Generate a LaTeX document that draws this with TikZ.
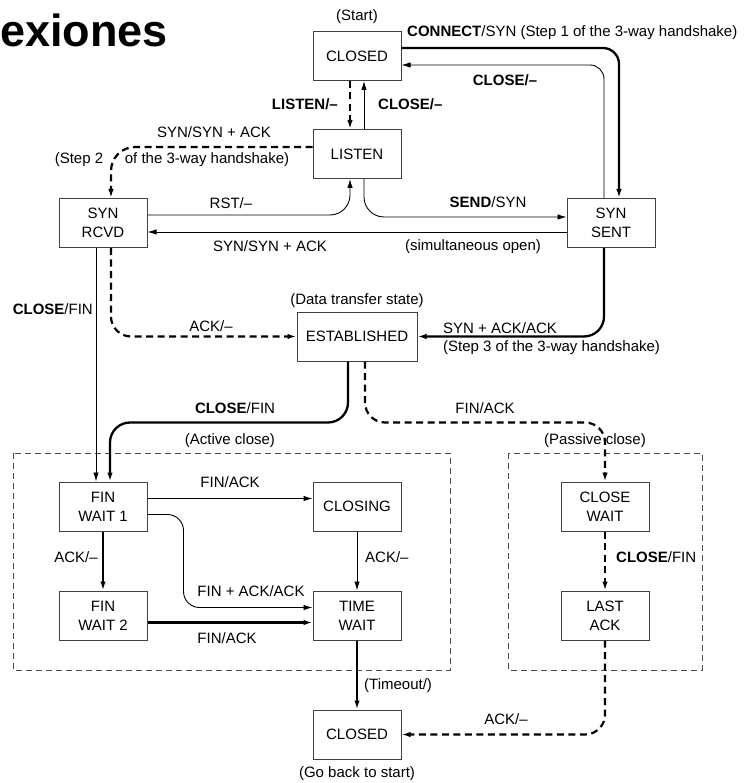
\documentclass[tikz,border=0pt]{standalone}
\usepackage{fontspec}
\setmainfont{Liberation Sans}
\usetikzlibrary{arrows.meta,calc}
\begin{document}
\begin{tikzpicture}[x=1pt,y=-1pt,
  every node/.style={font=\fontsize{15}{19}\selectfont},
  state/.style={draw=black!75, line width=1pt, minimum width=88pt,
    minimum height=49pt, align=center, inner sep=2pt},
  lbl/.style={inner sep=0pt, anchor=base},
  lblw/.style={inner sep=0pt, anchor=base west},
  lble/.style={inner sep=0pt, anchor=base east},
  tip/.style={-{Latex[length=9pt,width=5.5pt]}},
  thinedge/.style={tip, line width=0.9pt},
  thickedge/.style={tip, line width=2.3pt},
  dashedge/.style={tip, line width=2.2pt, dash pattern=on 7pt off 4.5pt},
  frame/.style={draw=black!70, line width=0.8pt, dash pattern=on 6pt off 4pt}
]
% canvas
\fill[white] (0,0) rectangle (746,783);

% heading
\node[inner sep=0pt, anchor=base west, font=\fontsize{45}{50}\selectfont\bfseries] (title) at (0,47) {exiones};

% groups of closing states
\draw[frame] (13,453) rectangle (450,670);
\draw[frame] (508,453) rectangle (702,670);

% states
\node[state] (closedA) at (357,56) {CLOSED};
\node[state] (listen) at (357,154) {LISTEN};
\node[state] (synrcvd) at (103,223) {SYN\\RCVD};
\node[state] (synsent) at (611,223) {SYN\\SENT};
\node[state, minimum width=120pt] (estab) at (357,336.5) {ESTABLISHED};
\node[state] (finwait1) at (103,506.5) {FIN\\WAIT 1};
\node[state] (closing) at (357,506.5) {CLOSING};
\node[state] (finwait2) at (103,615.5) {FIN\\WAIT 2};
\node[state] (timewait) at (357,615.5) {TIME\\WAIT};
\node[state] (closewait) at (605,506.5) {CLOSE\\WAIT};
\node[state] (lastack) at (605,615.5) {LAST\\ACK};
\node[state] (closedB) at (357,734.5) {CLOSED};

% transitions
\draw[thickedge, rounded corners=16pt] ($(closedA.east)+(0,-8)$) -| ($(synsent.north)+(8,0)$);
\draw[thinedge, rounded corners=14pt] ($(synsent.north)+(-7,0)$) |- ($(closedA.east)+(0,9)$);
\draw[dashedge] ($(closedA.south)+(-7,0)$) -- ($(listen.north)+(-7,0)$);
\draw[thinedge] ($(listen.north)+(7,0)$) -- ($(closedA.south)+(7,0)$);
\draw[dashedge, rounded corners=24pt] ($(listen.west)+(0,-7)$) -| ($(synrcvd.north)+(8,0)$);
\draw[thinedge, rounded corners=20pt] ($(synrcvd.east)+(0,-8)$) -| ($(listen.south)+(-7,0)$);
\draw[thinedge, rounded corners=20pt] ($(listen.south)+(7,0)$) |- ($(synsent.west)+(0,-6)$);
\draw[thinedge] ($(synsent.west)+(0,9)$) -- ($(synrcvd.east)+(0,9)$);
\draw[thickedge, rounded corners=20pt] ($(synsent.south)+(-7,0)$) |- (estab.east);
\draw[dashedge, rounded corners=20pt] ($(synrcvd.south)+(8,0)$) |- (estab.west);
\draw[thinedge] ($(synrcvd.south)+(-7,0)$) -- ($(finwait1.north)+(-7,0)$);
\draw[thickedge, rounded corners=20pt] ($(estab.south)+(-9,0)$) -- ++(0,61) -| ($(finwait1.north)+(7,0)$);
\draw[dashedge, rounded corners=20pt] ($(estab.south)+(8,0)$) -- ++(0,61) -| (closewait.north);
\draw[thinedge] ($(finwait1.east)+(0,-8)$) -- ($(closing.west)+(0,-8)$);
\draw[thinedge, rounded corners=16pt] ($(finwait1.east)+(0,8)$) -- ++(36,0) |- ($(timewait.west)+(0,-8)$);
\draw[thickedge] ($(finwait2.east)+(0,7)$) -- ($(timewait.west)+(0,7)$);
\draw[thickedge] (finwait1.south) -- (finwait2.north);
\draw[thinedge] (closing.south) -- (timewait.north);
\draw[dashedge] (closewait.south) -- (lastack.north);
\draw[thickedge] (timewait.south) -- (closedB.north);
\draw[dashedge, rounded corners=20pt] (lastack.south) |- (closedB.east);

% labels
\node[lbl] (lstart) at (357,21) {(Start)};
\node[lblw] (lconnect) at (407,37) {\textbf{CONNECT}/SYN (Step 1 of the 3-way handshake)};
\node[lbl] (lcloseA) at (505,86) {\textbf{CLOSE/–}};
\node[lble] (llisten) at (338,110) {\textbf{LISTEN/–}};
\node[lblw] (lcloseB) at (378,110) {\textbf{CLOSE/–}};
\node[lbl] (lsynack) at (214,138) {SYN/SYN + ACK};
\node[lbl] (lstep2a) at (79,164) {(Step 2};
\node[lbl] (lstep2b) at (207,164) {of the 3-way handshake)};
\node[lbl] (lrst) at (231,209) {RST/–};
\node[lbl] (lsend) at (488,208) {\textbf{SEND}/SYN};
\node[lbl] (lsynackB) at (270,252) {SYN/SYN + ACK};
\node[lbl] (lsimul) at (473,251) {(simultaneous open)};
\node[lbl] (ldata) at (357,304) {(Data transfer state)};
\node[lbl] (lack) at (211,331) {ACK/–};
\node[lblw] (lsynackack) at (443,333) {SYN + ACK/ACK};
\node[lblw] (lstep3) at (443,351) {(Step 3 of the 3-way handshake)};
\node[lble] (lclosefinA) at (93,314) {\textbf{CLOSE}/FIN};
\node[lbl] (lclosefinB) at (235,413) {\textbf{CLOSE}/FIN};
\node[lbl] (lfinackA) at (485,413) {FIN/ACK};
\node[lbl] (lactive) at (230,444) {(Active close)};
\node[lbl] (lpassive) at (595,444) {(Passive close)};
\node[lbl] (lfinackB) at (230,487) {FIN/ACK};
\node[lbl] (lackB) at (76,562) {ACK/–};
\node[lblw] (lackC) at (365,562) {ACK/–};
\node[lblw] (lclosefinC) at (616,562) {\textbf{CLOSE}/FIN};
\node[lbl] (lfinackack) at (251,596) {FIN + ACK/ACK};
\node[lbl] (lfinackC) at (227,643) {FIN/ACK};
\node[lblw] (ltimeout) at (364,689) {(Timeout/)};
\node[lbl] (lackD) at (506,724) {ACK/–};
\node[lbl] (lback) at (357,777) {(Go back to start)};
\end{tikzpicture}
\end{document}
